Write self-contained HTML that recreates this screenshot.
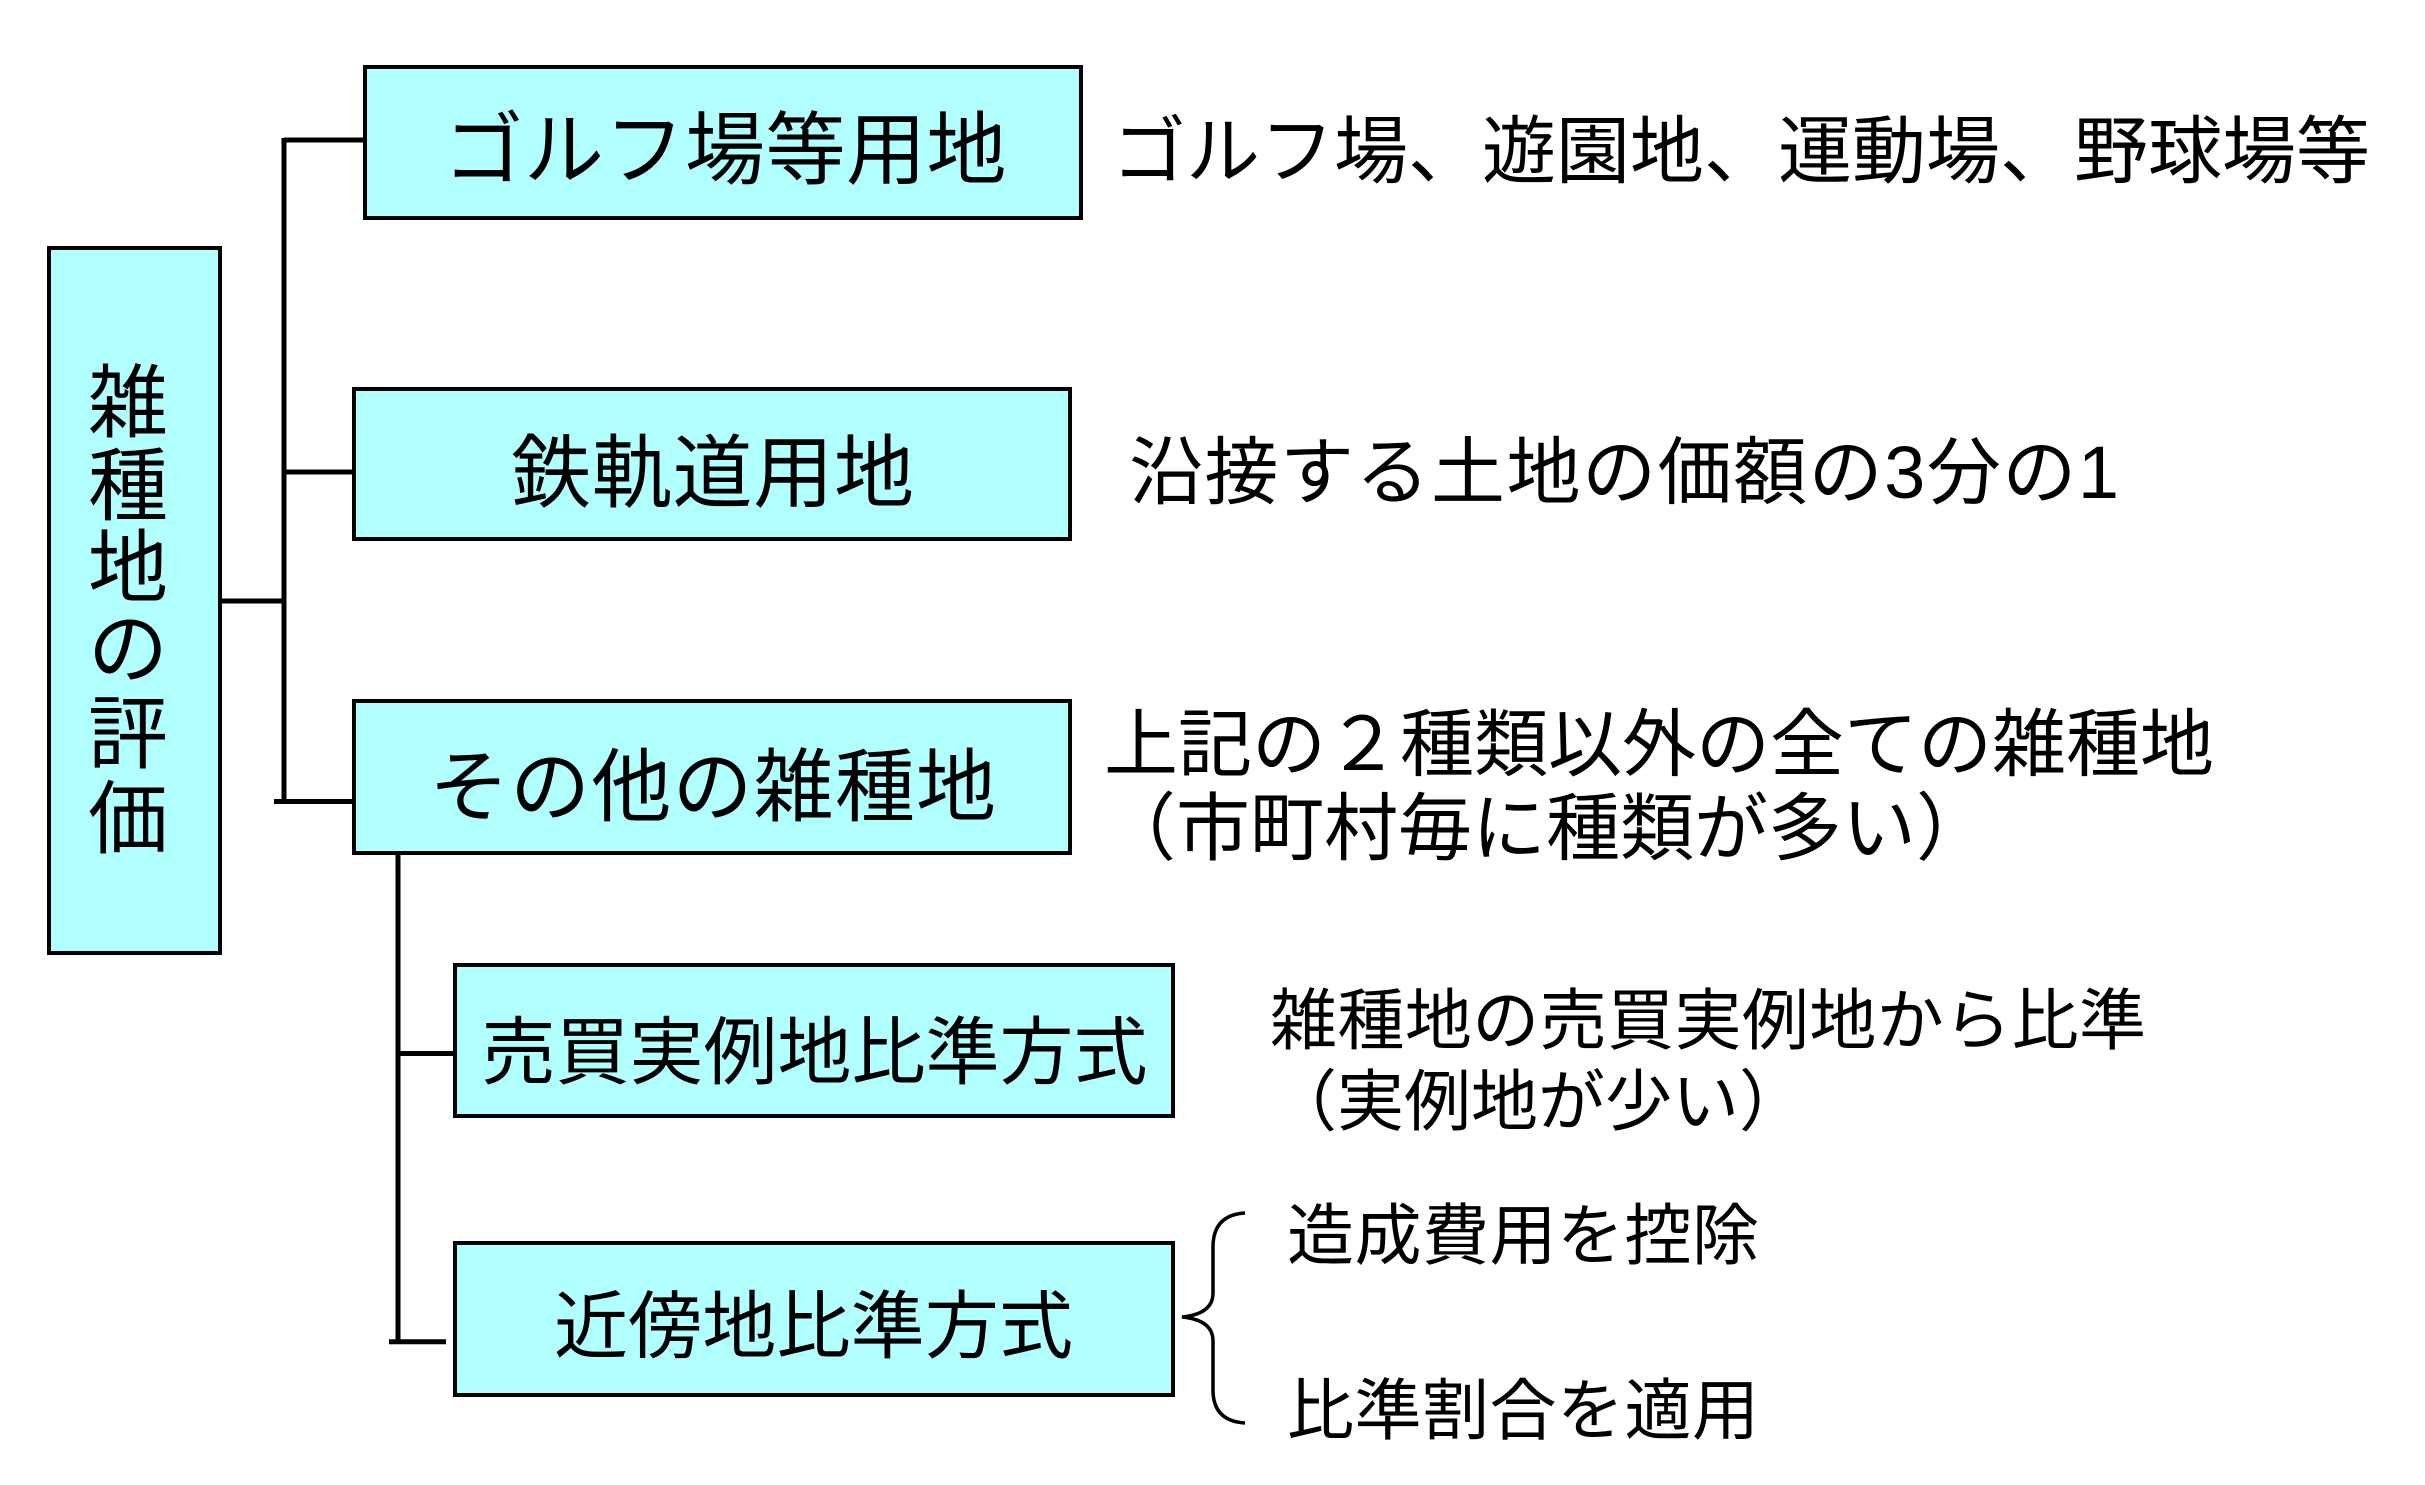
<!DOCTYPE html>
<html lang="ja">
<head>
<meta charset="utf-8">
<style>
  html, body { margin: 0; padding: 0; background: #ffffff; }
  body { width: 2425px; height: 1485px; overflow: hidden; }
  svg { display: block; }
  text { font-family: "Liberation Sans", "Noto Sans CJK JP", sans-serif; fill: #000; }
</style>
</head>
<body>
<svg width="2425" height="1485" viewBox="0 0 2425 1485" xmlns="http://www.w3.org/2000/svg">
  <rect x="0" y="0" width="2425" height="1485" fill="#ffffff"/>

  <!-- Boxes -->
  <g fill="#b2ffff" stroke="#000" stroke-width="4">
    <rect x="49" y="248" width="171" height="705"/>
    <rect x="365" y="67" width="716" height="151"/>
    <rect x="354" y="389" width="716" height="150"/>
    <rect x="354" y="701" width="716" height="152"/>
    <rect x="455" y="965" width="718" height="151"/>
    <rect x="455" y="1243" width="718" height="152"/>
  </g>

  <!-- Connectors -->
  <g stroke="#000" stroke-width="5" fill="none" stroke-linecap="butt">
    <line x1="221" y1="601" x2="284" y2="601"/>
    <line x1="284" y1="138" x2="284" y2="804"/>
    <line x1="284" y1="140" x2="363" y2="140"/>
    <line x1="284" y1="472" x2="352" y2="472"/>
    <line x1="274" y1="801.5" x2="352" y2="801.5"/>
    <line x1="398" y1="855" x2="398" y2="1344"/>
    <line x1="398" y1="1053.5" x2="453" y2="1053.5"/>
    <line x1="389" y1="1341.7" x2="446" y2="1341.7"/>
  </g>

  <!-- Brace -->
  <path d="M1245,1213 Q1213,1215 1213,1247 L1213,1293 Q1213,1314 1182,1317 Q1213,1320 1213,1341 L1213,1390 Q1213,1421 1245,1423"
        fill="none" stroke="#000" stroke-width="3.5"/>

  <!-- Root vertical label -->
  <g font-size="80" text-anchor="middle">
    <text x="128" y="431">雑</text>
    <text x="128" y="514">種</text>
    <text x="128" y="596">地</text>
    <text x="128" y="677">の</text>
    <text x="128" y="762">評</text>
    <text x="128" y="847">価</text>
  </g>

  <!-- Box labels -->
  <g text-anchor="middle">
    <text x="725" y="178" font-size="80" textLength="563" lengthAdjust="spacing">ゴルフ場等用地</text>
    <text x="712.5" y="501" font-size="80" textLength="403" lengthAdjust="spacing">鉄軌道用地</text>
    <text x="712.5" y="815" font-size="80" textLength="567" lengthAdjust="spacing">その他の雑種地</text>
    <text x="814.5" y="1078" font-size="74" textLength="666" lengthAdjust="spacing">売買実例地比準方式</text>
    <text x="813.5" y="1352" font-size="74" textLength="519" lengthAdjust="spacing">近傍地比準方式</text>
  </g>

  <!-- Right descriptions -->
  <g font-size="74">
    <text x="1112" y="177" textLength="1258" lengthAdjust="spacing">ゴルフ場、遊園地、運動場、野球場等</text>
    <text x="1129" y="498" textLength="990" lengthAdjust="spacing">沿接する土地の価額の3分の1</text>
    <text x="1104" y="770" textLength="1110" lengthAdjust="spacing">上記の２種類以外の全ての雑種地</text>
    <text x="1102" y="854" textLength="888" lengthAdjust="spacing">（市町村毎に種類が多い）</text>
  </g>
  <g font-size="67">
    <text x="1270" y="1044" textLength="876" lengthAdjust="spacing">雑種地の売買実例地から比準</text>
    <text x="1270" y="1125" textLength="536" lengthAdjust="spacing">（実例地が少い）</text>
    <text x="1287" y="1259" textLength="472" lengthAdjust="spacing">造成費用を控除</text>
    <text x="1287" y="1434" textLength="472" lengthAdjust="spacing">比準割合を適用</text>
  </g>
</svg>
</body>
</html>
